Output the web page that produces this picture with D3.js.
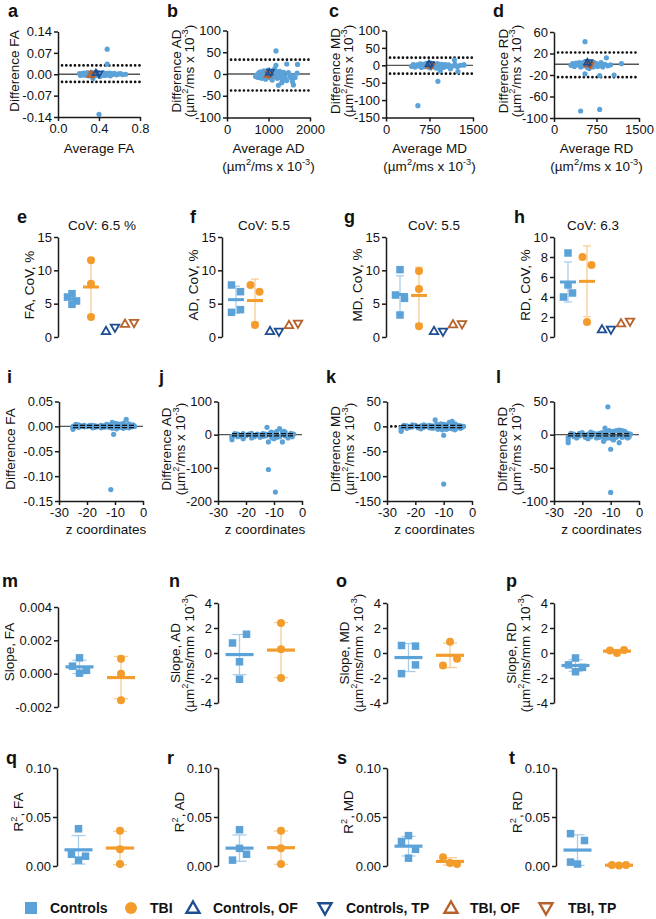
<!DOCTYPE html>
<html><head><meta charset="utf-8">
<script src="https://cdn.jsdelivr.net/npm/d3@7"></script>
<style>
body{margin:0;background:#fff;}
svg{display:block;font-family:"Liberation Sans",Arial,Helvetica,sans-serif;}
</style></head><body>
<svg id="chart" width="656" height="919"></svg>
<script>
// ================= DATA =================
// Groups / legend
const groups = ["Controls","TBI","Controls, OF","Controls, TP","TBI, OF","TBI, TP"];

// Row 1 (a–d): Bland–Altman, average vs difference
const baFA_avg  = [0.21,0.22,0.24,0.25,0.26,0.27,0.28,0.29,0.30,0.31,0.32,0.33,0.34,0.35,0.36,0.37,0.38,0.39,0.40,0.41,0.42,0.43,0.44,0.45,0.46,0.47,0.48,0.49,0.50,0.51,0.52,0.53,0.55,0.57,0.59,0.61,0.63,0.66,0.48,0.48,0.40,0.34];
const baFA_diff = [0.002,-0.004,0.003,-0.002,0.004,-0.003,0.001,0.005,-0.005,0.002,-0.001,0.006,-0.006,0.003,0.000,-0.004,0.007,-0.002,0.004,-0.007,0.002,-0.003,0.005,0.001,-0.004,0.003,-0.002,0.000,0.004,-0.005,0.002,-0.001,0.003,-0.002,0.001,0.002,-0.001,0.000,0.082,0.033,-0.131,-0.014];
const baFA_limits = [0.029,-0.025];
const baFA_ctrlOF = [0.37,0.003], baFA_ctrlTP = [0.40,0.002], baFA_tbiOF = [0.32,-0.002], baFA_tbiTP = [0.34,0.001];

const baAD_avg  = [690,720,750,770,790,810,830,850,870,890,910,930,950,970,990,1010,1030,1050,1070,1090,1110,1130,1150,1170,1190,1210,1230,1250,1270,1300,1330,1360,1400,1440,1480,1520,1560,1600,1640,1690,1180,1180,1440,1700,1580,1600,1240,1320,1380];
const baAD_diff = [-6,-2,-8,3,-4,5,-10,2,-6,7,-3,-12,4,-7,9,-5,6,-9,3,-14,8,-4,12,-6,5,-10,2,-8,6,-3,-12,4,-7,-15,3,-6,-10,-4,-8,2,53,20,23,22,-18,-25,-26,-20,-14];
const baAD_limits = [33,-38];
const baAD_ctrlOF = [1020,3], baAD_ctrlTP = [1050,5], baAD_tbiOF = [990,-2], baAD_tbiTP = [1010,0];

const baMD_avg  = [440,470,500,530,560,590,610,630,650,670,690,710,730,750,770,790,810,830,850,870,890,910,930,960,990,1020,1050,1080,1110,1150,1190,1230,1280,1340,550,895,1180,1345,1240,935,1110];
const baMD_diff = [-3,2,-5,1,-2,4,-6,3,-1,-4,5,-2,3,-7,6,-3,4,-5,2,-8,5,-1,-4,3,-6,2,-3,1,-5,-2,3,-4,0,1,-116,-46,15,1,-18,-16,-10];
const baMD_limits = [22,-24];
const baMD_ctrlOF = [740,3], baMD_ctrlTP = [770,4], baMD_tbiOF = [750,-1], baMD_tbiTP = [780,0];

const baRD_avg  = [300,330,360,390,420,450,470,490,510,530,550,570,590,610,630,650,670,690,710,730,750,770,800,830,860,900,950,1000,547,470,806,924,1190,806,1060,547,620];
const baRD_diff = [-2,1,-4,2,-1,3,-5,1,-3,4,-2,5,-6,2,-3,4,-1,-5,3,-2,1,-4,-2,3,-5,0,-3,-1,42,-87,-84,12,1,-21,-20,-18,-8];
const baRD_limits = [22,-24];
const baRD_ctrlOF = [590,3], baRD_ctrlTP = [620,4], baRD_tbiOF = [600,-1], baRD_tbiTP = [640,0];

// Row 2 (e–h): CoV, %
const covFA_ctrl = [6.5,6.0,5.4,4.9], covFA_tbi = [11.5,8.0,3.0], covFA_tri = [0.8,1.5,1.9,2.2];
const covAD_ctrl = [7.8,6.8,4.1,3.7], covAD_tbi = [7.8,6.8,1.8], covAD_tri = [0.8,0.9,1.7,2.1];
const covMD_ctrl = [10.1,6.3,5.8,3.3], covMD_tbi = [9.9,7.2,1.6], covMD_tri = [0.8,0.9,1.8,2.0];
const covRD_ctrl = [8.4,5.2,4.4,4.0], covRD_tbi = [8.0,7.2,1.5], covRD_tri = [0.7,0.8,1.3,1.6];
const covTitles = ["CoV: 6.5 %","CoV: 5.5","CoV: 5.5","CoV: 6.3"];

// Row 3 (i–l): difference vs z coordinate
const zCoord = [-25,-25,-25,-24,-23,-23,-22,-21,-21,-20,-19,-18,-18,-17,-17,-16,-15,-15,-14,-14,-13,-13,-12.5,-12,-12,-11.5,-11,-11,-10.5,-10,-10,-10,-9.5,-9,-9,-8,-8,-7,-7,-6.5,-6,-6,-5,-5,-4,-4,-3.5,-3];
const zdFA = [-0.006,0.000,-0.003,0.004,0.003,-0.002,0.001,0.002,-0.001,0.000,0.002,-0.003,0.002,0.001,-0.002,0.000,0.002,-0.003,0.001,-0.002,0.004,-0.001,0.003,-0.002,0.001,-0.127,0.008,-0.004,-0.016,0.006,-0.002,0.003,-0.005,0.005,-0.003,0.004,-0.002,0.006,-0.004,0.003,0.014,-0.002,0.005,-0.003,0.002,-0.001,0.003,0.000];
const zdAD = [-15,-5,-8,3,-6,2,-4,-12,3,-3,2,-10,4,-3,-6,2,-8,-1,-5,3,-4,2,22,-105,-22,3,-6,8,-10,-4,-12,5,-173,10,-8,18,-6,6,-22,10,-4,8,-10,-3,4,-2,-6,2];
const zdMD = [-10,-3,-6,2,-4,1,-2,3,-1,2,-3,1,-5,3,-2,1,-3,2,-4,1,13,-3,4,-6,2,-4,5,-3,-7,-116,-18,4,-5,3,-6,8,-4,10,-5,3,-7,5,-3,2,-4,1,-2,0];
const zdRD = [-12,-4,-8,2,-3,1,-5,2,-2,3,-4,1,-6,4,-3,2,-5,1,-4,2,-3,3,-10,10,-6,4,42,-5,6,-3,-22,-87,-6,5,-8,6,-4,7,-12,5,-4,6,-3,5,-5,2,-3,1];

// Row 4 (m–p): slopes
const slFA_ctrl = [0.00095,0.00045,0.0002,0.00003], slFA_tbi = [0.0009,0.0,-0.0016];
const slAD_ctrl = [1.5,0.8,-0.7,-2.1], slAD_tbi = [2.4,0.3,-2.0];
const slMD_ctrl = [0.6,0.55,-0.95,-1.65], slMD_tbi = [0.9,-0.45,-1.0];
const slRD_ctrl = [-0.4,-0.95,-1.15,-1.5], slRD_tbi = [0.2,0.0,0.25];

// Row 5 (q–t): R²
const r2FA_ctrl = [0.038,0.012,0.010,0.006], r2FA_tbi = [0.036,0.017,0.002];
const r2AD_ctrl = [0.037,0.018,0.012,0.006], r2AD_tbi = [0.036,0.018,0.002];
const r2MD_ctrl = [0.031,0.025,0.017,0.008], r2MD_tbi = [0.009,0.003,0.002];
const r2RD_ctrl = [0.033,0.026,0.004,0.002], r2RD_tbi = [0.001,0.0005,0.001];

// Tick values
const tk_baFA_y = [-0.14,-0.07,0,0.07,0.14], tk_baFA_x = [0,0.4,0.8];
const tk_baAD_y = [-100,-50,0,50,100], tk_baAD_x = [0,1000,2000];
const tk_baMD_y = [-150,-100,-50,0,50,100], tk_baMD_x = [0,750,1500];
const tk_baRD_y = [-100,-60,-20,20,60], tk_baRD_x = [0,750,1500];
const tk_cov15 = [0,5,10,15], tk_cov10 = [0,2,4,6,8,10];
const tk_z = [-30,-20,-10,0];
const tk_zFA = [-0.15,-0.10,-0.05,0,0.05], tk_zAD = [-200,-100,0,100], tk_zMD = [-150,-100,-50,0,50], tk_zRD = [-100,-50,0,50];
const tk_slFA = [-0.002,0,0.002,0.004], tk_sl = [-4,-2,0,2,4];
const tk_r2 = [0,0.05,0.10];

// Horizontal spreading of overlapping dots (units)
const jit = {
  covFA:[[0,-1,1,0],[0,0,0]], covAD:[[-1,1,1,-1],[-1,1,0]], covMD:[[0,-1,1,0],[0,0,0]], covRD:[[0,0,1,-1],[-1,1,0]],
  slFA:[[0,-1,1,0],[0,0,0]], slAD:[[1,-1,0,0],[0,0,0]], slMD:[[-1,1,1,-1],[0,1,-1]], slRD:[[0,-1,1,0],[-1,0,1]],
  r2FA:[[0,-1,1,0],[0,0,0]], r2AD:[[0,0,1,-1],[0,0,0]], r2MD:[[0,-1,1,0],[-1,0,1]], r2RD:[[-1,1,-1,0],[-1,0,1]]
};

// ================= STYLE =================
const BLUE="#5ba2d8", ORANGE="#f39c2b", DBLUE="#1d4e91", BROWN="#b7622b";
const BLUE_L="#aacdec", ORANGE_L="#f8cd94", AX="#1a1a1a";
const svg = d3.select("#chart");

const f = n => (d => d.toFixed(n));
const fi = d => String(d);

function styleAxis(a){
  a.attr("font-family",null).attr("font-size",null);
  a.select(".domain").attr("stroke",AX).attr("stroke-width",1.5);
  a.selectAll(".tick line").attr("stroke",AX).attr("stroke-width",1.5);
  a.selectAll(".tick text").attr("fill","#111").attr("font-size",13);
}
function yAxis(y, x, ticks, fmt){
  const a = svg.append("g").attr("transform",`translate(${x},0)`)
    .call(d3.axisLeft(y).tickValues(ticks).tickFormat(fmt).tickSize(4).tickSizeOuter(0).tickPadding(2));
  styleAxis(a);
}
function xAxis(x, y, ticks, fmt){
  const a = svg.append("g").attr("transform",`translate(0,${y})`)
    .call(d3.axisBottom(x).tickValues(ticks).tickFormat(fmt).tickSize(4).tickSizeOuter(0).tickPadding(3));
  styleAxis(a);
}
function rich(x,y,parts,{size=13.5,rot=0,anchor="middle",weight="normal"}={}){
  const t = svg.append("text").attr("transform",`translate(${x},${y})${rot?` rotate(${rot})`:""}`)
    .attr("text-anchor",anchor).attr("font-size",size).attr("font-weight",weight).attr("fill","#111");
  let up=false;
  parts.forEach(p=>{
    const sup = Array.isArray(p);
    const ts = t.append("tspan").text(sup?p[0]:p);
    if(sup){ ts.attr("font-size",size*0.68); if(!up) ts.attr("dy",-size*0.42); up=true; }
    else if(up){ ts.attr("dy",size*0.42); up=false; }
  });
  return t;
}
function letter(x,y,s){ svg.append("text").attr("x",x).attr("y",y).attr("font-size",18).attr("font-weight","bold").attr("fill","#111").text(s); }
function triPath(cx,cy,s,up){
  const h=s*0.866;
  return up ? `M${cx},${cy-2*h/3}L${cx+s/2},${cy+h/3}L${cx-s/2},${cy+h/3}Z`
            : `M${cx},${cy+2*h/3}L${cx+s/2},${cy-h/3}L${cx-s/2},${cy-h/3}Z`;
}
function tri(cx,cy,s,up,color,sw){
  svg.append("path").attr("d",triPath(cx,cy,s,up)).attr("fill","none").attr("stroke",color).attr("stroke-width",sw).attr("stroke-linejoin","miter");
}
function sq(cx,cy,s,color){ svg.append("rect").attr("x",cx-s/2).attr("y",cy-s/2).attr("width",s).attr("height",s).attr("fill",color); }
function dot(cx,cy,r,color){ svg.append("circle").attr("cx",cx).attr("cy",cy).attr("r",r).attr("fill",color); }
function hline(x1,x2,y,color,w,dash,cap){
  const l=svg.append("line").attr("x1",x1).attr("x2",x2).attr("y1",y).attr("y2",y).attr("stroke",color).attr("stroke-width",w);
  if(dash) l.attr("stroke-dasharray",dash);
  if(cap) l.attr("stroke-linecap",cap);
}
function vline(x,y1,y2,color,w){ svg.append("line").attr("x1",x).attr("x2",x).attr("y1",y1).attr("y2",y2).attr("stroke",color).attr("stroke-width",w); }

const UNITS = ["(µm",["2"],"/ms x 10",["-3"],")"];
const UNITS_SL = ["(µm",["2"],"/ms/mm x 10",["-3"],")"];

// ================= ROW 1: a–d =================
const row1 = [
  {L:"a",lx:8,  x0:58, x1:140, yt:31.5,yb:117, xd:[0,0.8], yd:[-0.14,0.14], tx:tk_baFA_x, ty:tk_baFA_y, fx:f(1), fy:f(2),
   avg:baFA_avg, diff:baFA_diff, lim:baFA_limits, cOF:baFA_ctrlOF, cTP:baFA_ctrlTP, tOF:baFA_tbiOF, tTP:baFA_tbiTP, yt1:"Difference FA", xt:"Average FA", units:false},
  {L:"b",lx:167,x0:227,x1:310, yt:30.5,yb:117.5, xd:[0,2000], yd:[-100,100], tx:tk_baAD_x, ty:tk_baAD_y, fx:fi, fy:fi,
   avg:baAD_avg, diff:baAD_diff, lim:baAD_limits, cOF:baAD_ctrlOF, cTP:baAD_ctrlTP, tOF:baAD_tbiOF, tTP:baAD_tbiTP, yt1:"Difference AD", xt:"Average AD", units:true},
  {L:"c",lx:329,x0:386,x1:473, yt:30.5,yb:117.5, xd:[0,1500], yd:[-150,100], tx:tk_baMD_x, ty:tk_baMD_y, fx:fi, fy:fi,
   avg:baMD_avg, diff:baMD_diff, lim:baMD_limits, cOF:baMD_ctrlOF, cTP:baMD_ctrlTP, tOF:baMD_tbiOF, tTP:baMD_tbiTP, yt1:"Difference MD", xt:"Average MD", units:true},
  {L:"d",lx:493,x0:554,x1:639, yt:32,yb:118, xd:[0,1500], yd:[-100,60], tx:tk_baRD_x, ty:tk_baRD_y, fx:fi, fy:fi,
   avg:baRD_avg, diff:baRD_diff, lim:baRD_limits, cOF:baRD_ctrlOF, cTP:baRD_ctrlTP, tOF:baRD_tbiOF, tTP:baRD_tbiTP, yt1:"Difference RD", xt:"Average RD", units:true}
];
row1.forEach(p=>{
  const x=d3.scaleLinear().domain(p.xd).range([p.x0,p.x1]);
  const y=d3.scaleLinear().domain(p.yd).range([p.yb,p.yt]);
  hline(p.x0,p.x1,y(0),"#555",1.3);
  p.lim.forEach(v=>hline(p.x0+4,p.x1,y(v),"#111",2.6,"0.1,4.2","round"));
  p.avg.forEach((a,i)=>dot(x(a),y(p.diff[i]),2.6,BLUE));
  tri(x(p.tOF[0]),y(p.tOF[1]),7,true,BROWN,1.6);
  tri(x(p.tTP[0]),y(p.tTP[1]),7,false,BROWN,1.6);
  tri(x(p.cOF[0]),y(p.cOF[1]),7,true,DBLUE,1.5);
  tri(x(p.cTP[0]),y(p.cTP[1]),7,false,DBLUE,1.5);
  yAxis(y,p.x0,p.ty,p.fy);
  xAxis(x,p.yb,p.tx,p.fx);
  letter(p.lx,17,p.L);
  const cx=(p.x0+p.x1)/2;
  rich(cx,153,[p.xt]);
  if(p.units){
    rich(cx,171,UNITS);
    rich(p.x0-46,71,[p.yt1],{rot:-90});
    rich(p.x0-33,71,UNITS,{rot:-90});
  } else {
    rich(p.x0-39,71,[p.yt1],{rot:-90});
  }
});

// ================= ROW 2: e–h =================
const row2 = [
  {L:"e",lx:17, x0:58, ctrl:covFA_ctrl, tbi:covFA_tbi, tri:covFA_tri, j:jit.covFA, max:15, ticks:tk_cov15, title:"FA, CoV, %", cov:covTitles[0], cx:102},
  {L:"f",lx:190,x0:222,ctrl:covAD_ctrl, tbi:covAD_tbi, tri:covAD_tri, j:jit.covAD, max:15, ticks:tk_cov15, title:"AD, CoV, %", cov:covTitles[1], cx:264},
  {L:"g",lx:344,x0:386,ctrl:covMD_ctrl, tbi:covMD_tbi, tri:covMD_tri, j:jit.covMD, max:15, ticks:tk_cov15, title:"MD, CoV, %", cov:covTitles[2], cx:434},
  {L:"h",lx:514,x0:554,ctrl:covRD_ctrl, tbi:covRD_tbi, tri:covRD_tri, j:jit.covRD, max:10, ticks:tk_cov10, title:"RD, CoV, %", cov:covTitles[3], cx:593}
];
const catPos2 = [14,33,48,57,67,76];
function meanSD(g, cx, vals, y, color, light, halfW, capW, w){
  const m=d3.mean(vals), s=d3.deviation(vals);
  vline(cx,y(m-s),y(m+s),light,1.3);
  hline(cx-capW/2,cx+capW/2,y(m+s),light,1.3);
  hline(cx-capW/2,cx+capW/2,y(m-s),light,1.3);
  return ()=>hline(cx-halfW,cx+halfW,y(m),color,w);
}
row2.forEach(p=>{
  const y=d3.scaleLinear().domain([0,p.max]).range([337,237]);
  const xs=catPos2.map(o=>p.x0+o);
  const m1=meanSD(svg,xs[0],p.ctrl,y,BLUE,BLUE_L,8,8,3);
  const m2=meanSD(svg,xs[1],p.tbi,y,ORANGE,ORANGE_L,8,8,3);
  p.ctrl.forEach((v,i)=>sq(xs[0]+p.j[0][i]*4.5,y(v),7.5,BLUE));
  p.tbi.forEach((v,i)=>dot(xs[1]+p.j[1][i]*4.5,y(v),4,ORANGE));
  m1(); m2();
  tri(xs[2],y(p.tri[0]),8.5,true,DBLUE,1.8);
  tri(xs[3],y(p.tri[1]),8.5,false,DBLUE,1.8);
  tri(xs[4],y(p.tri[2]),8.5,true,BROWN,1.8);
  tri(xs[5],y(p.tri[3]),8.5,false,BROWN,1.8);
  yAxis(y,p.x0,p.ticks,fi);
  letter(p.lx,223,p.L);
  rich(p.cx,230,[p.cov]);
  rich(p.x0-24,285,[p.title],{rot:-90});
});

// ================= ROW 3: i–l =================
const row3 = [
  {L:"i",lx:7,  x0:59, x1:143, yd:[-0.15,0.05], ticks:tk_zFA, fy:f(2), d:zdFA, t1:"Difference FA", units:false, dotted:false},
  {L:"j",lx:159,x0:218,x1:302, yd:[-200,100], ticks:tk_zAD, fy:fi, d:zdAD, t1:"Difference AD", units:true, dotted:false},
  {L:"k",lx:326,x0:387,x1:472, yd:[-150,50], ticks:tk_zMD, fy:fi, d:zdMD, t1:"Difference MD", units:true, dotted:true},
  {L:"l",lx:496,x0:554,x1:639, yd:[-100,50], ticks:tk_zRD, fy:fi, d:zdRD, t1:"Difference RD", units:true, dotted:false}
];
row3.forEach(p=>{
  const x=d3.scaleLinear().domain([-30,0]).range([p.x0,p.x1]);
  const y=d3.scaleLinear().domain(p.yd).range([501,401.5]);
  if(p.dotted) hline(x(-28.5),x(-1.2),y(0),"#111",2.6,"0.1,4.2","round");
  else hline(p.x0,p.x1,y(0),"#555",1.3);
  zCoord.forEach((z,i)=>dot(x(z),y(p.d[i]),2.6,BLUE));
  const ze=d3.extent(zCoord);
  hline(x(ze[0]),x(ze[1]),y(0)-1,"#111",1.2,"5,2");
  hline(x(ze[0]),x(ze[1]),y(0)+1.2,"#111",1.2,"5,2");
  yAxis(y,p.x0,p.ticks,p.fy);
  xAxis(x,501,tk_z,fi);
  letter(p.lx,383,p.L);
  rich((p.x0+p.x1)/2+5,534,["z coordinates"]);
  if(p.units){ rich(p.x0-47,449,[p.t1],{rot:-90}); rich(p.x0-33,449,UNITS,{rot:-90}); }
  else rich(p.x0-44,449,[p.t1],{rot:-90});
});

// ================= ROW 4: m–p =================
const row4 = [
  {L:"m",lx:2,  x0:58, yd:[-0.002,0.004], yr:[707,607], ticks:tk_slFA, fy:f(3), c:slFA_ctrl, t:slFA_tbi, j:jit.slFA, t1:"Slope, FA", units:false},
  {L:"n",lx:169,x0:218,yd:[-4,4], yr:[703,603], ticks:tk_sl, fy:fi, c:slAD_ctrl, t:slAD_tbi, j:jit.slAD, t1:"Slope, AD", units:true},
  {L:"o",lx:336,x0:387,yd:[-4,4], yr:[703,603], ticks:tk_sl, fy:fi, c:slMD_ctrl, t:slMD_tbi, j:jit.slMD, t1:"Slope, MD", units:true},
  {L:"p",lx:506,x0:554,yd:[-4,4], yr:[703,603], ticks:tk_sl, fy:fi, c:slRD_ctrl, t:slRD_tbi, j:jit.slRD, t1:"Slope, RD", units:true}
];
// ================= ROW 5: q–t =================
const row5 = [
  {L:"q",lx:6,  x0:57, c:r2FA_ctrl, t:r2FA_tbi, j:jit.r2FA, t1:", FA"},
  {L:"r",lx:167,x0:218,c:r2AD_ctrl, t:r2AD_tbi, j:jit.r2AD, t1:", AD"},
  {L:"s",lx:337,x0:387,c:r2MD_ctrl, t:r2MD_tbi, j:jit.r2MD, t1:", MD"},
  {L:"t",lx:509,x0:556,c:r2RD_ctrl, t:r2RD_tbi, j:jit.r2RD, t1:", RD"}
];
const catPos45 = [21.5,63];
function groupPlot(p,y){
  const xs=catPos45.map(o=>p.x0+o);
  const m1=meanSD(svg,xs[0],p.c,y,BLUE,BLUE_L,14,14,3.2);
  const m2=meanSD(svg,xs[1],p.t,y,ORANGE,ORANGE_L,14,14,3.2);
  p.c.forEach((v,i)=>sq(xs[0]+p.j[0][i]*7,y(v),7.5,BLUE));
  p.t.forEach((v,i)=>dot(xs[1]+p.j[1][i]*7,y(v),4,ORANGE));
  m1(); m2();
}
row4.forEach(p=>{
  const y=d3.scaleLinear().domain(p.yd).range(p.yr);
  groupPlot(p,y);
  yAxis(y,p.x0,p.ticks,p.fy);
  letter(p.lx,587,p.L);
  if(p.units){ rich(p.x0-38,653,[p.t1],{rot:-90}); rich(p.x0-24,653,UNITS_SL,{rot:-90}); }
  else rich(p.x0-44,652,[p.t1],{rot:-90});
});
row5.forEach(p=>{
  const y=d3.scaleLinear().domain([0,0.10]).range([866,768]);
  groupPlot(p,y);
  yAxis(y,p.x0,tk_r2,f(2));
  letter(p.lx,764,p.L);
  rich(p.x0-34,812,["R",["2"],p.t1],{rot:-90});
});

// ================= LEGEND =================
const legY=908;
const legItems = [
  {sym:"sq", c:BLUE, sx:31, tx:50},
  {sym:"ci", c:ORANGE, sx:131, tx:150},
  {sym:"up", c:DBLUE, sx:193, tx:213},
  {sym:"dn", c:DBLUE, sx:325, tx:346},
  {sym:"up", c:BROWN, sx:451, tx:470},
  {sym:"dn", c:BROWN, sx:546, tx:568}
];
legItems.forEach((d,i)=>{
  if(d.sym==="sq") sq(d.sx,legY,12,d.c);
  else if(d.sym==="ci") dot(d.sx,legY,6,d.c);
  else tri(d.sx,legY+(d.sym==="up"?1:-1),13,d.sym==="up",d.c,2.4);
  svg.append("text").attr("x",d.tx).attr("y",legY+5).attr("font-size",14).attr("font-weight","bold").attr("fill","#111").text(groups[i]);
});
</script>
</body></html>
